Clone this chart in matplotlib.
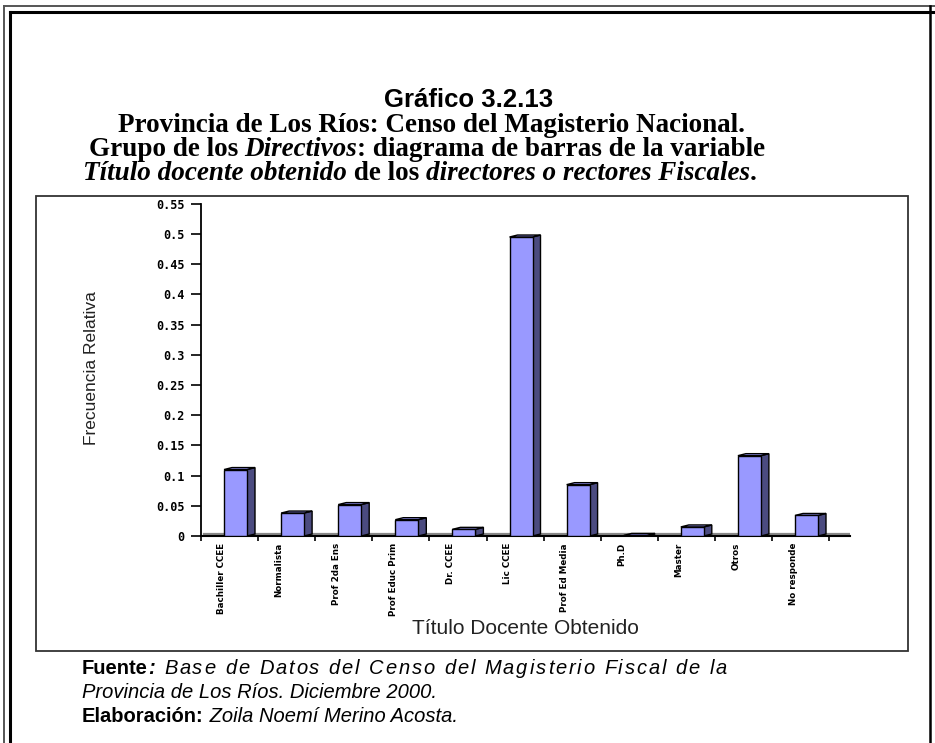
import numpy as np
import matplotlib
matplotlib.use('Agg')
import matplotlib.pyplot as plt
from matplotlib.patches import Rectangle, Polygon

# datos del gráfico
categorias = ['Bachiller CCEE', 'Normalista', 'Prof 2da Ens', 'Prof Educ Prim',
              'Dr. CCEE', 'Lic CCEE', 'Prof Ed Media', 'Ph.D', 'Master',
              'Otros', 'No responde']
frecuencias = [0.110, 0.038, 0.052, 0.027, 0.011, 0.495, 0.085, 0.001,
               0.015, 0.133, 0.034]
y_ticks = [0, 0.05, 0.1, 0.15, 0.2, 0.25, 0.3, 0.35, 0.4, 0.45, 0.5, 0.55]
y_tick_labels = ['0', '0.05', '0.1', '0.15', '0.2', '0.25', '0.3', '0.35',
                 '0.4', '0.45', '0.5', '0.55']

W, H = 935, 743
FRONT = '#9999ff'
SIDE = '#4b4b80'


def fx(x):
    return x / W


def fy(y):
    return 1 - y / H


fig = plt.figure(figsize=(W / 100, H / 100), dpi=100)
renderer = fig.canvas.get_renderer()

# marco doble exterior
for x0, y0, lw, col in [(4, 6, 1.4, '#555555'), (10, 12, 2.2, 'black')]:
    fig.add_artist(plt.Line2D([fx(x0), fx(x0)], [fy(y0), 0], lw=lw, color=col))
    fig.add_artist(plt.Line2D([fx(x0), 1], [fy(y0), fy(y0)], lw=lw, color=col))
fig.add_artist(plt.Line2D([fx(930), fx(930)], [fy(6), 0], lw=1.8, color='black'))

# recuadro del gráfico
fig.add_artist(Rectangle((fx(36), fy(651)), fx(908) - fx(36), fy(196) - fy(651),
                         fill=False, lw=1.3, ec='#333333', transform=fig.transFigure))


def linea(piezas, y, cx=None, x=None, ancho_total=None, fijas=0):
    """dibuja una línea de texto con trozos de distinto estilo.
    Si se da ancho_total, el espacio sobrante se reparte tras las piezas
    a partir de la posición `fijas`."""
    objs = [fig.text(0, fy(y), t, va='center', ha='left', **kw) for t, kw in piezas]
    anchos = [o.get_window_extent(renderer).width for o in objs]
    total = sum(anchos)
    extra = 0
    n_huecos = len(objs) - 1 - fijas
    if ancho_total is not None and n_huecos > 0:
        extra = (ancho_total - total) / n_huecos
    xs = (cx - total / 2) if cx is not None else x
    for k, (o, w) in enumerate(zip(objs, anchos)):
        o.set_x(fx(xs))
        xs += w + (extra if k >= fijas else 0)


# títulos
fig.text(fx(469), fy(100), 'Gráfico 3.2.13', ha='center', va='center',
         family='Liberation Sans', weight='bold', size=18.5)
tb = dict(family='Liberation Serif', weight='bold', size=19.5)
ti = dict(family='Liberation Serif', weight='bold', style='italic', size=19.5)
linea([('Provincia de Los Ríos: Censo del Magisterio Nacional.', tb)], 126, cx=431)
linea([('Grupo de los ', tb), ('Directivos', ti),
       (': diagrama de barras de la variable', tb)], 150, cx=427)
linea([('Título docente obtenido', ti), (' de los ', tb),
       ('directores o rectores Fiscales', ti), ('.', tb)], 173, cx=420)

# ejes (posición en pixeles)
paso = 57.1
x_ini, x_fin, y_cero, y_top = 201, 850, 536, 203.8
ax = fig.add_axes([fx(x_ini), fy(y_cero), (x_fin - x_ini) / W, (y_cero - y_top) / H])
ax.set_xlim(0, (x_fin - x_ini) / paso)
ax.set_ylim(0, 0.55)
ax.patch.set_visible(False)
for s in ['top', 'right']:
    ax.spines[s].set_visible(False)
ax.spines['left'].set_linewidth(1.3)
ax.spines['bottom'].set_linewidth(1.5)

ancho = 23 / paso
lado = 8 / paso
dz = 0.55 / (y_cero - y_top) * 2.0

# piso (línea gris detrás)
ax.plot([0.05, (x_fin - x_ini) / paso], [dz, dz], color='#888888', lw=1.6, zorder=1)

for i, v in enumerate(frecuencias):
    x0 = i + 23 / paso
    ax.add_patch(Polygon([(x0 + ancho, 0), (x0 + ancho + lado, dz),
                          (x0 + ancho + lado, v + dz), (x0 + ancho, v)],
                         fc=SIDE, ec='black', lw=1, zorder=3))
    ax.add_patch(Polygon([(x0, v), (x0 + lado, v + dz), (x0 + ancho + lado, v + dz),
                          (x0 + ancho, v)], fc=FRONT, ec='black', lw=1, zorder=3))
    ax.add_patch(Rectangle((x0, 0), ancho, v, fc=FRONT, ec='black', lw=1, zorder=4))
    ax.text(i + 21 / paso, -7 / (y_cero - y_top), categorias[i],
            transform=ax.get_xaxis_transform(), rotation=90, ha='center', va='top',
            family='DejaVu Sans', weight='bold', size=6.3)

ax.set_yticks(y_ticks)
ax.set_yticklabels(y_tick_labels, family='DejaVu Sans Mono', weight='bold', size=8.5)
ax.tick_params(axis='y', length=7, width=1.2, pad=5)
ax.set_xticks(np.arange(0, len(categorias) + 1))
ax.set_xticklabels([])
ax.tick_params(axis='x', length=3.5, width=1.2, direction='out')

fig.text(fx(92), fy(368), 'Frecuencia Relativa', rotation=90, ha='center', va='center',
         family='Liberation Sans', size=12.5, color='#222222')
fig.text(fx(525), fy(628), 'Título Docente Obtenido', ha='center', va='center',
         family='Liberation Sans', size=15, color='#222222')

# fuente (primera línea justificada, el espacio extra se reparte entre letras)
fb = dict(family='Liberation Sans', weight='bold', size=14.5)
fi = dict(family='Liberation Sans', style='italic', size=14.5)
texto_fuente = ' Base de Datos del Censo del Magisterio Fiscal de la'
piezas = [('Fuente', fb), (':', dict(fb, style='italic'))]
piezas += [(c, fi) for c in texto_fuente]
linea(piezas, 669, x=82, ancho_total=645, fijas=1)
linea([('Provincia de Los Ríos. Diciembre 2000.', fi)], 693, x=82)
linea([('Elaboración:', fb), (' Zoila Noemí Merino Acosta.', fi)], 716, x=82)

fig.savefig('out.png', dpi=100)
